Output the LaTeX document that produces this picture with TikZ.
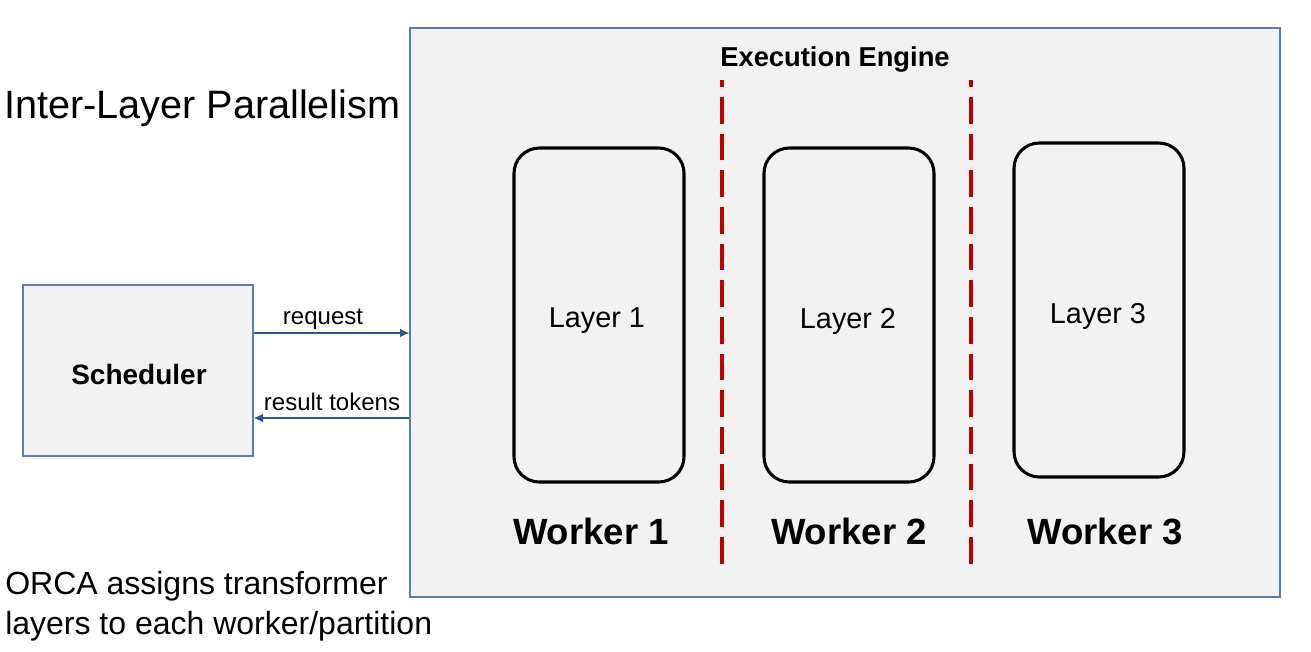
\documentclass[tikz,border=0pt]{standalone}
\usepackage{fontspec}
\setmainfont{Liberation Sans}
\usetikzlibrary{arrows.meta,fit}
\definecolor{boxfill}{HTML}{F2F2F2}
\definecolor{boxline}{HTML}{5B7DB1}
\definecolor{arrblue}{HTML}{2E5590}
\definecolor{dashred}{HTML}{C00000}
\begin{document}
\begin{tikzpicture}[x=0.75pt,y=-0.75pt,
  panel/.style={draw=boxline,fill=boxfill,line width=1pt,inner sep=0pt},
  workerbox/.style={draw=black,line width=2.3pt,rounded corners=19pt,inner sep=0pt},
  arr/.style={draw=arrblue,line width=0.9pt,-{Latex[length=7pt,width=6.5pt]}},
  sep/.style={draw=dashred,line width=2.6pt,dash pattern=on 20pt off 7.5pt,dash phase=14.8pt},
  lbl/.style={inner sep=0pt,font=\fontsize{18}{21}\selectfont},
  layerlbl/.style={inner sep=0pt,font=\fontsize{21.6}{25}\selectfont},
  workerlbl/.style={inner sep=0pt,font=\bfseries\fontsize{27.4}{32}\selectfont}]
\useasboundingbox (0,0) rectangle (1311,651);
% engine panel
\node[panel,fit={(410,28)(1280,597)}] (engine) {};
\node[inner sep=0pt,font=\bfseries\fontsize{20.5}{24}\selectfont] (title) at (835,59) {Execution Engine};
% separators
\coordinate (s1a) at (722,80); \coordinate (s1b) at (722,567);
\coordinate (s2a) at (971,80); \coordinate (s2b) at (971,567);
\draw[sep] (s1a) -- (s1b);
\draw[sep] (s2a) -- (s2b);
% workers
\node[workerbox,fit={(514,148)(684,482)}] (w1) {};
\node[workerbox,fit={(764,148)(934,482)}] (w2) {};
\node[workerbox,fit={(1014,143)(1184,477)}] (w3) {};
\node[layerlbl] (l1) at (597,321) {Layer 1};
\node[layerlbl] (l2) at (848,321) {Layer 2};
\node[layerlbl] (l3) at (1098,316) {Layer 3};
\node[workerlbl] (wl1) at (591,531) {Worker 1};
\node[workerlbl] (wl2) at (849,531) {Worker 2};
\node[workerlbl] (wl3) at (1105,531) {Worker 3};
% scheduler
\node[panel,fit={(23,285)(253,456)}] (sched) {};
\node[inner sep=0pt,font=\bfseries\fontsize{21}{25}\selectfont] (schedlbl) at (139,374) {Scheduler};
% arrows
\coordinate (ry) at (0,333);
\coordinate (ty) at (0,418);
\draw[arr] (sched.east |- ry) -- (engine.west |- ry);
\draw[arr] (engine.west |- ty) -- (sched.east |- ty);
\node[lbl] (req) at (323,319) {request};
\node[lbl] (res) at (332,402) {result tokens};
% side texts
\node[inner sep=0pt,anchor=west,font=\fontsize{29.7}{34}\selectfont] (heading) at (4,108) {Inter-Layer Parallelism};
\node[inner sep=0pt,anchor=west,align=left,font=\fontsize{24}{30}\selectfont] (note) at (5,606) {ORCA assigns transformer\\layers to each worker/partition};
\end{tikzpicture}
\end{document}
